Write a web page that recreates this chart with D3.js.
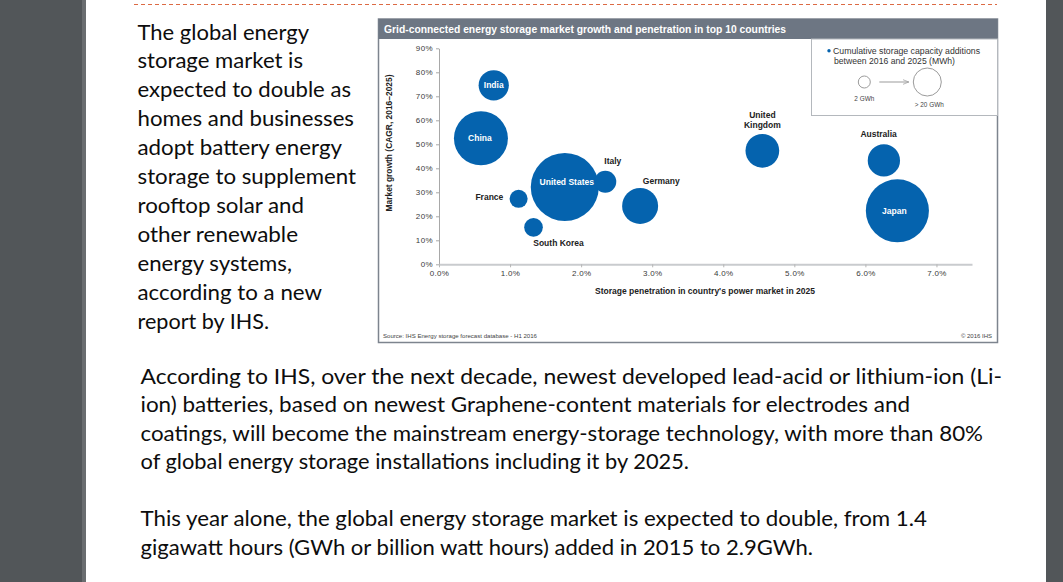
<!DOCTYPE html>
<html>
<head>
<meta charset="utf-8">
<title>Grid-connected energy storage</title>
<script src="https://d3js.org/d3.v7.min.js"></script>
<style>
  body { margin: 0; background: #525659; overflow: hidden; }
  svg { display: block; }
  .body-text { font-family: Lato, "Open Sans", sans-serif; font-size: 20.5px; fill: #0d0d0d; }
  .chart-text { font-family: "Liberation Sans", Arial, sans-serif; }
</style>
</head>
<body>
<script>

// ---- data ----
var countries   = ["India", "China", "United States", "Italy", "France", "South Korea", "Germany", "United Kingdom", "Australia", "Japan"];
var penetration = [0.77, 0.59, 1.77, 2.34, 1.12, 1.33, 2.83, 4.55, 6.26, 6.45];   // % of power market 2025
var growth      = [74.6, 52.5, 32.2, 34.4, 27.3, 15.4, 24.3, 47.3, 43.3, 22.3];   // CAGR 2016-2025, %
var capacity    = [24, 89, 147, 11, 6.6, 7.2, 36, 31, 28, 125];                  // GWh, read against legend
var xTicks = [0, 1, 2, 3, 4, 5, 6, 7];
var yTicks = [0, 10, 20, 30, 40, 50, 60, 70, 80, 90];
var legendValues = [2, 20];
var legendLabels = ["2 GWh", "> 20 GWh"];

var introLines = [
  "The global energy", "storage market is", "expected to double as", "homes and businesses",
  "adopt battery energy", "storage to supplement", "rooftop solar and", "other renewable",
  "energy systems,", "according to a new", "report by IHS."
];
var bodyLines = [
  "According to IHS, over the next decade, newest developed lead-acid or lithium-ion (Li-",
  "ion) batteries, based on newest Graphene-content materials for electrodes and",
  "coatings, will become the mainstream energy-storage technology, with more than 80%",
  "of global energy storage installations including it by 2025."
];
var body2Lines = [
  "This year alone, the global energy storage market is expected to double, from 1.4",
  "gigawatt hours (GWh or billion watt hours) added in 2015 to 2.9GWh."
];

// ---- layout (not data) ----
var introEnds = [309, 303, 351, 354, 342, 356, 304, 298, 292, 322, 269];
var bodyEnds  = [1002, 910, 983, 689];
var body2Ends = [927, 813];

// label placement: [anchor, dx, dy, colour]
var labelPlace = {
  "India":          ["middle", 0, 3, "#fff"],
  "China":          ["middle", -1, 2.5, "#fff"],
  "United States":  ["middle", 2, -2.3, "#fff"],
  "Italy":          ["middle", 7.5, -17.7, "#222"],
  "France":         ["end", -15.3, 0.8, "#222"],
  "South Korea":    ["middle", 25, 18.7, "#222"],
  "Germany":        ["start", 2.7, -21.5, "#222"],
  "United Kingdom": ["middle", 0, -32.7, "#222"],
  "Australia":      ["middle", -5.3, -23.3, "#222"],
  "Japan":          ["middle", -3, 3.3, "#fff"]
};

var W = 1063, H = 582;
var blue = "#0563ae";

var svg = d3.select("body").append("svg")
    .attr("width", W)
    .attr("height", H);

// page
svg.append("rect").attr("width", W).attr("height", H).attr("fill", "#525659");
svg.append("rect").attr("x", 82).attr("y", 0).attr("width", 4).attr("height", H).attr("fill", "#6a6d70");
svg.append("rect").attr("x", 86).attr("y", 0).attr("width", 960).attr("height", H).attr("fill", "#fff");

svg.append("line")
    .attr("x1", 134).attr("x2", 997)
    .attr("y1", 4.5).attr("y2", 4.5)
    .attr("stroke", "#dc6a44")
    .attr("stroke-width", 1)
    .attr("stroke-dasharray", "4,3");

// ---- body text ----
function writeLines(lines, ends, x0, y0, step) {
  svg.append("g").selectAll("text")
    .data(lines)
    .enter().append("text")
      .attr("class", "body-text")
      .attr("x", x0)
      .attr("y", function(d, i) { return y0 + i * step; })
      .attr("textLength", function(d, i) { return ends[i] - x0; })
      .attr("lengthAdjust", "spacingAndGlyphs")
      .text(function(d) { return d; });
}
writeLines(introLines, introEnds, 137.5, 39.5, 28.9);
writeLines(bodyLines, bodyEnds, 140.5, 383.5, 28.5);
writeLines(body2Lines, body2Ends, 140.5, 526, 28.8);

// ---- chart frame ----
var box = {left: 378.5, top: 19, right: 997.5, bottom: 342.5};
svg.append("rect")
    .attr("x", box.left).attr("y", box.top)
    .attr("width", box.right - box.left).attr("height", box.bottom - box.top)
    .attr("fill", "#fff")
    .attr("stroke", "#7d848e")
    .attr("stroke-width", 1.5);
svg.append("rect")
    .attr("x", box.left).attr("y", box.top)
    .attr("width", box.right - box.left).attr("height", 20)
    .attr("fill", "#6d7683");
svg.append("text")
    .attr("class", "chart-text")
    .attr("x", 384).attr("y", 33)
    .attr("fill", "#fff")
    .attr("font-size", "10.3px")
    .attr("font-weight", "bold")
    .attr("textLength", 402)
    .attr("lengthAdjust", "spacingAndGlyphs")
    .text("Grid-connected energy storage market growth and penetration in top 10 countries");

// ---- scales ----
var x = d3.scaleLinear().domain([0, 7.5]).range([439, 972]);
var y = d3.scaleLinear().domain([0, 90]).range([264.3, 48.3]);
var r = d3.scaleSqrt().domain([2, 20]).range([6, 14]);

// y axis
var yAxis = svg.append("g")
    .attr("class", "chart-text")
    .attr("transform", "translate(" + x(0) + ",0)")
    .call(d3.axisLeft(y).tickValues(yTicks).tickSize(3).tickSizeOuter(0).tickPadding(3)
      .tickFormat(function(d) { return d + "%"; }));
yAxis.select(".domain").attr("stroke", "#a8a8a8");
yAxis.selectAll(".tick line").attr("stroke", "#a8a8a8");
yAxis.selectAll(".tick text").attr("fill", "#3a3a3a").attr("font-size", "8px").attr("letter-spacing", "0.4px");

// x axis
var xAxis = svg.append("g")
    .attr("class", "chart-text")
    .attr("transform", "translate(0," + y(0) + ")")
    .call(d3.axisBottom(x).tickValues(xTicks).tickSize(3).tickSizeOuter(0).tickPadding(3)
      .tickFormat(function(d) { return d.toFixed(1) + "%"; }));
xAxis.select(".domain").attr("stroke", "#c9cbce").attr("stroke-width", 2);
xAxis.selectAll(".tick line").attr("stroke", "#b5b5b5");
xAxis.selectAll(".tick text").attr("fill", "#3a3a3a").attr("font-size", "8px").attr("letter-spacing", "0.3px");

// axis titles
svg.append("text")
    .attr("class", "chart-text")
    .attr("transform", "translate(391.5,143) rotate(-90)")
    .attr("text-anchor", "middle")
    .attr("font-size", "8.4px")
    .attr("font-weight", "bold")
    .attr("fill", "#222")
    .attr("textLength", 137)
    .attr("lengthAdjust", "spacingAndGlyphs")
    .text("Market growth (CAGR, 2016\u20132025)");
svg.append("text")
    .attr("class", "chart-text")
    .attr("x", 705).attr("y", 294)
    .attr("text-anchor", "middle")
    .attr("font-size", "8.5px")
    .attr("font-weight", "bold")
    .attr("fill", "#222")
    .attr("textLength", 220)
    .attr("lengthAdjust", "spacingAndGlyphs")
    .text("Storage penetration in country's  power market in 2025");

// ---- bubbles ----
var pts = countries.map(function(c, i) {
  return {name: c, px: penetration[i], g: growth[i], cap: capacity[i]};
});

svg.append("g").selectAll("circle")
  .data(pts)
  .enter().append("circle")
    .attr("cx", function(d) { return x(d.px); })
    .attr("cy", function(d) { return y(d.g); })
    .attr("r", function(d) { return r(d.cap); })
    .attr("fill", blue);

var labels = svg.append("g").selectAll("text")
  .data(pts)
  .enter().append("text")
    .attr("class", "chart-text")
    .attr("font-size", "8.5px")
    .attr("font-weight", "bold")
    .attr("text-anchor", function(d) { return labelPlace[d.name][0]; })
    .attr("fill", function(d) { return labelPlace[d.name][3]; })
    .attr("x", function(d) { return x(d.px) + labelPlace[d.name][1]; })
    .attr("y", function(d) { return y(d.g) + labelPlace[d.name][2]; });

labels.each(function(d) {
  var t = d3.select(this);
  if (d.name === "United Kingdom") {
    var parts = d.name.split(" ");
    t.selectAll("tspan").data(parts).enter().append("tspan")
      .attr("x", x(d.px) + labelPlace[d.name][1])
      .attr("dy", function(p, i) { return i === 0 ? 0 : 10; })
      .text(function(p) { return p; });
  } else {
    t.text(d.name);
  }
});

// ---- legend ----
var lg = {left: 811.5, top: 39, right: box.right, bottom: 115.5};
svg.append("rect")
    .attr("x", lg.left).attr("y", lg.top)
    .attr("width", lg.right - lg.left).attr("height", lg.bottom - lg.top)
    .attr("fill", "#fff")
    .attr("stroke", "#b4b8bd")
    .attr("stroke-width", 1);
svg.append("circle").attr("cx", 829).attr("cy", 50.8).attr("r", 1.7).attr("fill", blue);
svg.append("text")
    .attr("class", "chart-text")
    .attr("font-size", "8.4px").attr("fill", "#333")
    .attr("x", 833).attr("y", 54)
    .attr("textLength", 147)
    .attr("lengthAdjust", "spacingAndGlyphs")
    .text("Cumulative storage capacity additions");
svg.append("text")
    .attr("class", "chart-text")
    .attr("font-size", "8.4px").attr("fill", "#333")
    .attr("x", 834).attr("y", 64)
    .attr("textLength", 121)
    .attr("lengthAdjust", "spacingAndGlyphs")
    .text("between 2016 and 2025 (MWh)");

var legendX = [864.3, 927.3];
var legendY = 82;
svg.append("g").selectAll("circle")
  .data(legendValues)
  .enter().append("circle")
    .attr("cx", function(d, i) { return legendX[i]; })
    .attr("cy", legendY)
    .attr("r", function(d) { return r(d); })
    .attr("fill", "none")
    .attr("stroke", "#9b9b9b")
    .attr("stroke-width", 1);
svg.append("g").selectAll("text")
  .data(legendLabels)
  .enter().append("text")
    .attr("class", "chart-text")
    .attr("font-size", "6.4px").attr("fill", "#444")
    .attr("text-anchor", "middle")
    .attr("x", function(d, i) { return legendX[i] + (i ? 2 : 0); })
    .attr("y", function(d, i) { return legendY + r(legendValues[i]) + (i ? 10.5 : 13); })
    .text(function(d) { return d; });

svg.append("svg:defs").append("svg:marker")
    .attr("id", "arrow")
    .attr("viewBox", "0 -5 10 10")
    .attr("refX", 10).attr("refY", 0)
    .attr("markerWidth", 6).attr("markerHeight", 6)
    .attr("orient", "auto")
  .append("svg:path")
    .attr("d", "M0,-4L10,0L0,4")
    .attr("fill", "none")
    .attr("stroke", "#9b9b9b")
    .attr("stroke-width", 1.2);
svg.append("line")
    .attr("x1", legendX[0] + r(legendValues[0]) + 9)
    .attr("x2", legendX[1] - r(legendValues[1]) - 4.5)
    .attr("y1", legendY).attr("y2", legendY)
    .attr("stroke", "#9b9b9b")
    .attr("stroke-width", 1)
    .attr("marker-end", "url(#arrow)");

// ---- footers ----
svg.append("text")
    .attr("class", "chart-text")
    .attr("font-size", "6px").attr("fill", "#444")
    .attr("x", 383).attr("y", 337.5)
    .attr("textLength", 154)
    .attr("lengthAdjust", "spacingAndGlyphs")
    .text("Source:  IHS Energy storage forecast database - H1 2016");
svg.append("text")
    .attr("class", "chart-text")
    .attr("font-size", "6px").attr("fill", "#444")
    .attr("text-anchor", "end")
    .attr("x", 992).attr("y", 337.5)
    .text("\u00a9 2016  IHS");

</script>
</body>
</html>
